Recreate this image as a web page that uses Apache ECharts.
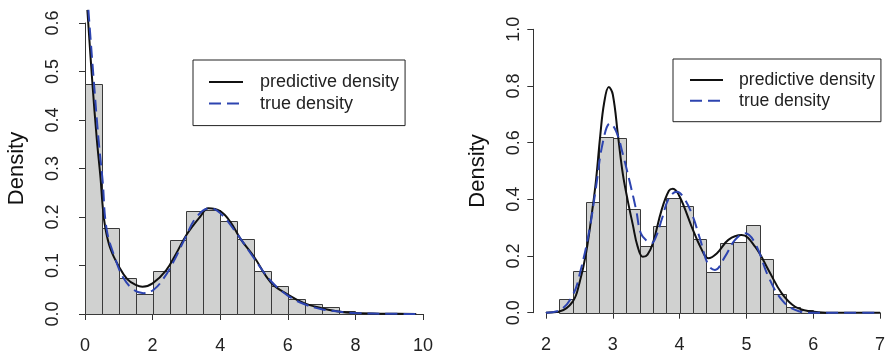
<!DOCTYPE html>
<html>
<head>
<meta charset="utf-8">
<script src="https://cdn.jsdelivr.net/npm/echarts@6/dist/echarts.min.js"></script>
<style>html,body{margin:0;padding:0;background:#fff}#c{width:888px;height:355px}</style>
</head>
<body>
<div id="c"></div>
<script>
// ---- Left panel data ----
var binEdges1 = [0,0.5,1,1.5,2,2.5,3,3.5,4,4.5,5,5.5,6,6.5,7,7.5,8,8.5,9];
var binHeights1 = [0.475,0.177,0.075,0.041,0.088,0.153,0.213,0.215,0.192,0.154,0.089,0.058,0.031,0.021,0.015,0.006,0.002,0.001];
var predX1 = [0.07,0.22,0.35,0.46,0.52,0.6,0.75,1.0,1.25,1.5,1.7,2.0,2.4,2.7,3.0,3.4,3.65,4.0,4.3,4.6,5.0,5.5,6.0,6.5,7.0,7.5,8.0,9.0,9.8];
var predY1 = [0.627,0.475,0.36,0.28,0.225,0.178,0.135,0.098,0.072,0.06,0.056,0.063,0.09,0.125,0.163,0.2,0.218,0.212,0.19,0.155,0.118,0.065,0.04,0.022,0.012,0.005,0.002,0.0005,0];
var trueX1 = [0.1,0.25,0.4,0.52,0.64,0.89,1.14,1.44,1.73,2.03,2.33,2.62,2.96,3.3,3.7,4.0,4.5,5.0,5.5,6.0,6.5,7.0,7.5,8.0,9.0,9.8];
var trueY1 = [0.627,0.49,0.36,0.276,0.175,0.115,0.074,0.05,0.043,0.05,0.074,0.108,0.156,0.2,0.218,0.208,0.165,0.115,0.068,0.038,0.02,0.01,0.005,0.002,0.0005,0];
var xTicks1 = [0,2,4,6,8,10];
var yTicks1 = [0,0.1,0.2,0.3,0.4,0.5,0.6];

// ---- Right panel data ----
var binEdges2 = [2.2,2.4,2.6,2.8,3.0,3.2,3.4,3.6,3.8,4.0,4.2,4.4,4.6,4.8,5.0,5.2,5.4,5.6,5.8,6.0,6.2];
var binHeights2 = [0.047,0.148,0.391,0.621,0.618,0.365,0.234,0.307,0.404,0.378,0.26,0.143,0.247,0.249,0.308,0.191,0.065,0.021,0.01,0.004];
var predX2 = [2.0,2.2,2.4,2.5,2.6,2.7,2.75,2.81,2.87,2.94,3.0,3.08,3.15,3.22,3.3,3.37,3.45,3.52,3.6,3.73,3.84,3.9,4.0,4.18,4.31,4.43,4.56,4.73,4.93,5.13,5.33,5.53,5.73,5.98,6.2,7.0];
var predY2 = [0,0.004,0.039,0.104,0.21,0.374,0.47,0.62,0.74,0.796,0.77,0.62,0.49,0.4,0.31,0.235,0.197,0.205,0.245,0.362,0.43,0.437,0.41,0.304,0.233,0.192,0.21,0.257,0.274,0.233,0.151,0.068,0.021,0.004,0,0];
var trueX2 = [2.0,2.2,2.4,2.52,2.65,2.75,2.85,2.96,3.05,3.15,3.27,3.35,3.42,3.52,3.58,3.65,3.73,3.84,3.96,4.05,4.18,4.31,4.43,4.53,4.68,4.83,4.98,5.13,5.33,5.53,5.73,5.98,7.0];
var trueY2 = [0,0.008,0.062,0.151,0.292,0.445,0.6,0.668,0.64,0.56,0.445,0.362,0.28,0.251,0.245,0.27,0.327,0.404,0.427,0.41,0.351,0.257,0.168,0.151,0.198,0.257,0.28,0.245,0.127,0.045,0.01,0,0];
var xTicks2 = [2,3,4,5,6,7];
var yTicks2 = [0,0.2,0.4,0.6,0.8,1.0];

var seriesNames = ['predictive density','true density'];
var FONT = '"Liberation Sans", Arial, Helvetica, sans-serif';

function zip(xs, ys){ return xs.map(function(x,i){ return [x, ys[i]]; }); }
function bins(edges, h){ return h.map(function(v,i){ return [edges[i], edges[i+1], v]; }); }

function renderBar(params, api){
  var p0 = api.coord([api.value(0), api.value(2)]);
  var p1 = api.coord([api.value(1), 0]);
  var x0 = Math.round(p0[0]) + 0.5, x1 = Math.round(p1[0]) + 0.5;
  var y0 = Math.round(p0[1]) + 0.5, y1 = Math.round(p1[1]) + 0.5;
  return {type:'rect', shape:{x:x0, y:y0, width:x1-x0, height:y1-y0},
          style:{fill:'#d0d1d0', stroke:'#3a3a3a', lineWidth:1}};
}

function xAxisCfg(idx, ticks, offset){
  return {type:'value', gridIndex:idx, min:ticks[0], max:ticks[ticks.length-1],
    interval: ticks[1]-ticks[0], offset: offset,
    axisLine:{show:true, lineStyle:{color:'#333', width:1}},
    axisTick:{show:true, length:6, lineStyle:{color:'#333'}},
    axisLabel:{margin:11, color:'#222', fontSize:18, fontFamily:FONT},
    splitLine:{show:false}};
}
function yAxisCfg(idx, ticks, offset){
  return {type:'value', gridIndex:idx, min:ticks[0], max:ticks[ticks.length-1],
    interval: Math.round((ticks[1]-ticks[0])*10)/10, offset: offset,
    name:'Density', nameLocation:'middle', nameRotate:90, nameGap:44,
    nameTextStyle:{fontSize:22, color:'#111', fontFamily:FONT},
    axisLine:{show:true, lineStyle:{color:'#333', width:1}},
    axisTick:{show:true, length:6, lineStyle:{color:'#333'}},
    axisLabel:{rotate:90, margin:10, color:'#222', fontSize:18, fontFamily:FONT,
      formatter:function(v){ return v.toFixed(1); }},
    splitLine:{show:false}};
}
function lineSeries(name, idx, data, color, dashed){
  return {type:'line', name:name, xAxisIndex:idx, yAxisIndex:idx, data:data,
    smooth:0.4, symbol:'none', clip:false, z:dashed?4:3,
    lineStyle:{color:color, width:2, type: dashed ? [12,6] : 'solid'},
    itemStyle:{color:color}};
}

var chart = echarts.init(document.getElementById('c'), null, {renderer:'canvas'});
chart.setOption({
  animation:false,
  backgroundColor:'#fff',
  grid:[
    {left:85, top:23, width:338, height:291},
    {left:546, top:29.3, width:336.7, height:283.4}
  ],
  xAxis:[xAxisCfg(0, xTicks1, 12), xAxisCfg(1, xTicks2, 12.3)],
  yAxis:[yAxisCfg(0, yTicks1, 13), yAxisCfg(1, yTicks2, 12.7)],
  legend:[
    {data:seriesNames, orient:'vertical', left:193, top:60,
     padding:[13,6,13,15], itemWidth:34, itemHeight:18, itemGap:3.6,
     itemStyle:{opacity:0},
     borderColor:'#222', borderWidth:1, borderRadius:0,
     textStyle:{fontSize:18, color:'#222', fontFamily:FONT, padding:[0,0,0,12]}},
    {data:seriesNames, orient:'vertical', left:673, top:59,
     padding:[12,6,12,16], itemWidth:33, itemHeight:18, itemGap:2.7,
     itemStyle:{opacity:0},
     borderColor:'#222', borderWidth:1, borderRadius:0,
     textStyle:{fontSize:17.6, color:'#222', fontFamily:FONT, padding:[0,0,0,11]}}
  ],
  series:[
    {type:'custom', xAxisIndex:0, yAxisIndex:0, data:bins(binEdges1, binHeights1),
     renderItem:renderBar, encode:{x:[0,1], y:2}, z:1},
    lineSeries(seriesNames[0], 0, zip(predX1, predY1), '#111111', false),
    lineSeries(seriesNames[1], 0, zip(trueX1, trueY1), '#2d44b0', true),
    {type:'custom', xAxisIndex:1, yAxisIndex:1, data:bins(binEdges2, binHeights2),
     renderItem:renderBar, encode:{x:[0,1], y:2}, z:1},
    lineSeries(seriesNames[0], 1, zip(predX2, predY2), '#111111', false),
    lineSeries(seriesNames[1], 1, zip(trueX2, trueY2), '#2d44b0', true)
  ]
});
</script>
</body>
</html>
